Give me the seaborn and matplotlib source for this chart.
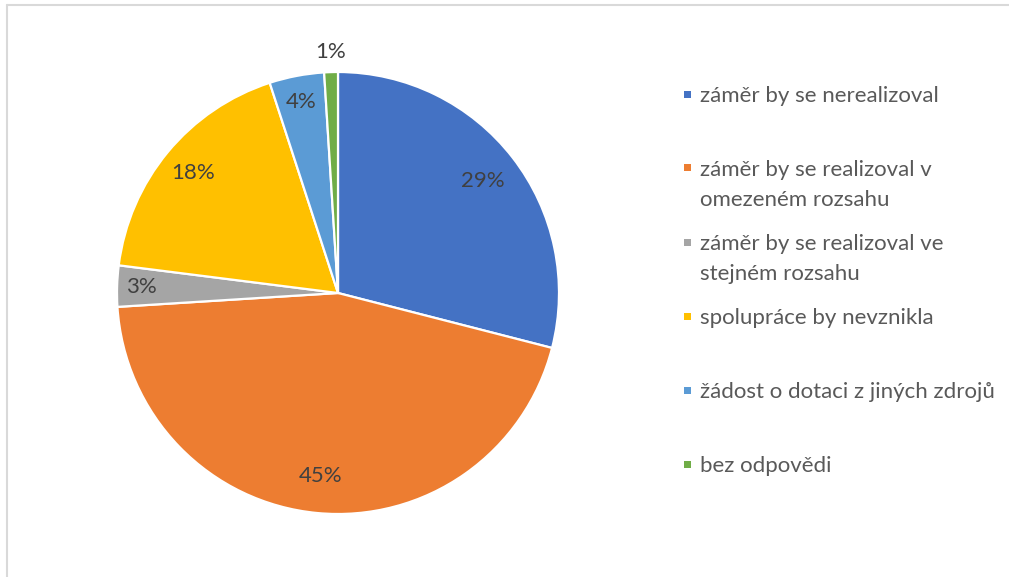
import matplotlib
matplotlib.use("Agg")
import numpy as np
import seaborn as sns
import matplotlib.pyplot as plt
from matplotlib.patches import Rectangle
from matplotlib.lines import Line2D

categories = [
    "záměr by se nerealizoval",
    "záměr by se realizoval v\nomezeném rozsahu",
    "záměr by se realizoval ve\nstejném rozsahu",
    "spolupráce by nevznikla",
    "žádost o dotaci z jiných zdrojů",
    "bez odpovědi",
]
shares = [29, 45, 3, 18, 4, 1]
colors = ["#4472C4", "#ED7D31", "#A5A5A5", "#FFC000", "#5B9BD5", "#70AD47"]

# where the percent labels sit (fraction of radius), small slices pushed out
label_r = [0.83, 0.83, 0.89, 0.85, 0.88, 1.09]

sns.set_theme(style="white")
plt.rcParams["font.family"] = ["Lato", "DejaVu Sans"]

W, H = 1009, 577
fig = plt.figure(figsize=(W / 100, H / 100), dpi=100)
fig.patch.set_facecolor("white")

cx, cy, r = 338, 293, 221
ax = fig.add_axes([(cx - r) / W, (H - cy - r) / H, 2 * r / W, 2 * r / H])
pal = sns.color_palette(colors)
wedges, texts, autotexts = ax.pie(
    shares,
    colors=pal,
    startangle=90,
    counterclock=False,
    autopct="%1.0f%%",
    pctdistance=0.83,
    wedgeprops=dict(edgecolor="white", linewidth=1.6),
    textprops=dict(color="#404040", fontsize=16),
)
for w, t, rr in zip(wedges, autotexts, label_r):
    ang = np.deg2rad((w.theta1 + w.theta2) / 2)
    t.set_position((rr * np.cos(ang), rr * np.sin(ang)))
    t.set_ha("center")
    t.set_va("center")
ax.set_xlim(-1, 1)
ax.set_ylim(-1, 1)
ax.set_aspect("equal")
ax.axis("off")

# legend, entries evenly spaced, marker next to the first line
line_h = 30
for i, (lab, c) in enumerate(zip(categories, pal)):
    yc = 94 + i * 74
    extra = lab.count("\n") * line_h
    fig.add_artist(Rectangle((684 / W, 1 - (yc + 3.5) / H), 7 / W, 7 / H,
                             transform=fig.transFigure, facecolor=c, edgecolor="none"))
    fig.text(700 / W, 1 - (yc + 8 + extra) / H, lab, ha="left", va="baseline",
             fontsize=16, color="#595959", linespacing=1.6)

# chart frame
fig.add_artist(Line2D([7 / W, 1], [1 - 5 / H, 1 - 5 / H], transform=fig.transFigure,
                      color="#D9D9D9", lw=1.5))
fig.add_artist(Line2D([7 / W, 7 / W], [0, 1 - 5 / H], transform=fig.transFigure,
                      color="#D9D9D9", lw=1.5))

fig.savefig("out.png", dpi=100)
